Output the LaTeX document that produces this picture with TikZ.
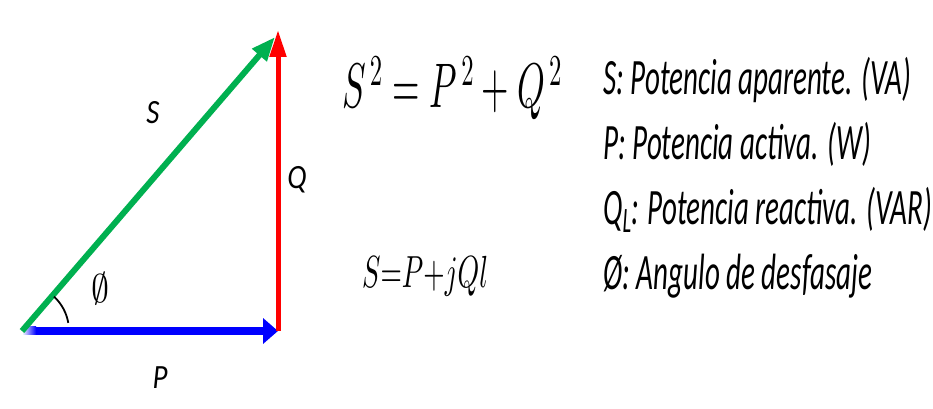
\documentclass[tikz,border=0pt]{standalone}
\usepackage{fontspec}
\setmainfont{Carlito}
\usetikzlibrary{arrows.meta}
\DeclareFontFamily{OML}{cmm}{\skewchar\font127 }
\DeclareFontShape{OML}{cmm}{m}{it}{<->cmmi10}{}
\DeclareFontFamily{OMS}{cmsy}{\skewchar\font48 }
\DeclareFontShape{OMS}{cmsy}{m}{n}{<->cmsy10}{}
\DeclareFontFamily{OT1}{cmr}{\hyphenchar\font45 }
\DeclareFontShape{OT1}{cmr}{m}{n}{<->cmr10}{}
\definecolor{sgreen}{RGB}{0,176,80}
\newcommand{\hsqz}[2]{\scalebox{#1}[1]{#2}}
\tikzset{
  lbl/.style={inner sep=0pt, font=\itshape\fontsize{34}{36}\selectfont},
  desc/.style={anchor=base west, inner sep=0pt, font=\itshape\fontsize{51}{54}\selectfont},
  eqn/.style={anchor=base west, inner sep=0pt},
}
\begin{document}
\begin{tikzpicture}[x=1pt,y=1pt]
\useasboundingbox (0,0) rectangle (933,409);
\fill[white] (0,0) rectangle (933,409);
\coordinate (O) at (22,78);
\coordinate (Pend) at (278,78);
\coordinate (Qend) at (278,379);
\coordinate (Send) at (275,372);
\draw[blue, line width=8pt, -{Triangle[length=15pt,width=25pt]}] (O) -- (Pend);
\shade[left color=white, right color=blue] ([yshift=-4pt]O) rectangle ++(14,8);
\draw[sgreen, line width=6pt, -{Triangle[length=24pt,width=18pt]}] (O) -- (Send);
\draw[red, line width=5pt, -{Triangle[length=27pt,width=16pt]}] (Pend) -- (Qend);
\draw[line width=1.8pt] ([shift={(10:47pt)}]O) arc (10:47:47pt);
\node[lbl] (labS) at (153,296) {\hsqz{0.85}{S}};
\node[lbl] (labQ) at (297,229) {\hsqz{0.85}{Q}};
\node[lbl] (labP) at (160,31) {\hsqz{0.85}{P}};
\node[inner sep=0pt, font=\fontsize{40}{40}\selectfont] (labphi) at (100,120) {\hsqz{0.9}{$\emptyset$}};
\node[eqn, font=\fontsize{63}{64}\selectfont] (eqA) at (342,301) {\hsqz{0.56}{$S^{\,2} = P^{\,2} + Q^{\,2}$}};
\node[eqn, font=\fontsize{45}{46}\selectfont] (eqB) at (362,121) {\hsqz{0.61}{$S{=}P{+}jQl$}};
\foreach \i/\yy/\txt in {1/314/{S: Potencia aparente. (VA)},
                        2/249/{P: Potencia activa. (W)},
                        3/184/{Q\textsubscript{L}: Potencia reactiva. (VAR)},
                        4/119/{Ø: Angulo de desfasaje}}
  \node[desc] (d\i) at (603,\yy) {\hsqz{0.57}{\txt}};
\end{tikzpicture}
\end{document}
